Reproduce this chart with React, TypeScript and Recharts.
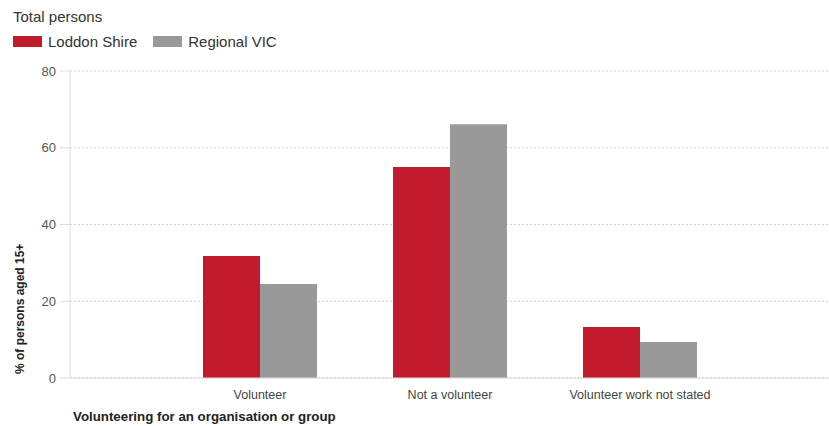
import { Bar, BarChart, CartesianGrid, XAxis, YAxis } from "recharts";

const categories = ["Volunteer", "Not a volunteer", "Volunteer work not stated"];
const loddonShire = [31.8, 55.0, 13.3];
const regionalVic = [24.5, 66.1, 9.4];
const yTicks = [0, 20, 40, 60, 80];

const RED = "#c11b2d";
const GREY = "#999999";
const FONT = "'Liberation Sans', Arial, sans-serif";

const data = categories.map((name, i) => ({
  name,
  loddon: loddonShire[i],
  regional: regionalVic[i],
}));

function LegendBox() {
  const item = { display: "flex", alignItems: "center", marginRight: 16 };
  const swatch = (c: string) => ({ width: 29, height: 11, background: c, marginRight: 6 });
  return (
    <div style={{ position: "absolute", left: 13, top: 8, fontFamily: FONT, fontSize: 15, color: "#333" }}>
      <div style={{ marginBottom: 8 }}>Total persons</div>
      <div style={{ display: "flex" }}>
        <div style={item}>
          <div style={swatch(RED)} />
          <span>Loddon Shire</span>
        </div>
        <div style={item}>
          <div style={swatch(GREY)} />
          <span>Regional VIC</span>
        </div>
      </div>
    </div>
  );
}

export default function App() {
  return (
    <div style={{ position: "absolute", left: 0, top: 0, width: 829, height: 426, background: "#fff" }}>
      <LegendBox />
      <BarChart
        width={829}
        height={426}
        data={data}
        margin={{ top: 71, right: 0, left: 0, bottom: 18 }}
        barCategoryGap="20%"
        barGap={0}
      >
        <CartesianGrid stroke="#cfcfcf" strokeDasharray="2 2" vertical={false} />
        <XAxis
          dataKey="name"
          padding={{ left: 95, right: 94 }}
          stroke="#dcdcdc"
          tickLine={false}
          tick={{ fill: "#444", fontSize: 12.5, fontFamily: FONT }}
          tickMargin={6}
        />
        <YAxis
          width={70}
          domain={[0, 80]}
          ticks={yTicks}
          stroke="#dcdcdc"
          tickSize={10}
          tickMargin={4}
          tick={{ fill: "#555", fontSize: 13, fontFamily: FONT }}
          label={{
            value: "% of persons aged 15+",
            angle: -90,
            position: "insideBottomLeft",
            dx: 19,
            dy: 1,
            style: { fontWeight: "bold", fontSize: 12, fontFamily: FONT, fill: "#222", textAnchor: "start" },
          }}
        />
        <Bar dataKey="loddon" fill={RED} isAnimationActive={false} />
        <Bar dataKey="regional" fill={GREY} isAnimationActive={false} />
        <text x={73} y={421} style={{ fontWeight: "bold", fontSize: 13.3, fontFamily: FONT, fill: "#222" }}>
          Volunteering for an organisation or group
        </text>
      </BarChart>
    </div>
  );
}
